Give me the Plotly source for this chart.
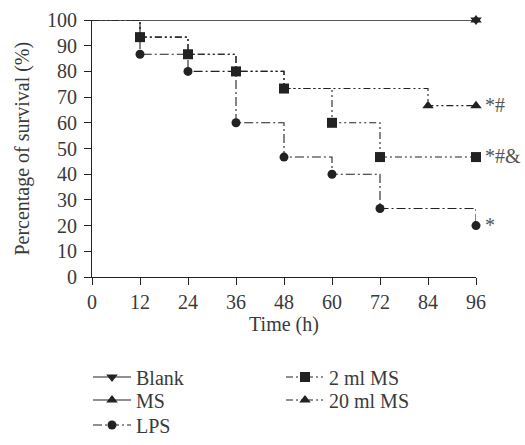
import plotly.graph_objects as go

# ---- data ----
time_blank = [0, 96]
surv_blank = [100, 100]
time_ms = [0, 96]
surv_ms = [100, 100]
time_lps = [0, 12, 24, 36, 48, 60, 72, 96]
surv_lps = [100, 86.67, 80, 60, 46.67, 40, 26.67, 20]
time_2ml = [0, 12, 24, 36, 48, 60, 72, 96]
surv_2ml = [100, 93.33, 86.67, 80, 73.33, 60, 46.67, 46.67]
time_20ml = [0, 12, 24, 36, 48, 84, 96]
surv_20ml = [100, 93.33, 86.67, 80, 73.33, 66.67, 66.67]

x_ticks = [0, 12, 24, 36, 48, 60, 72, 84, 96]
y_ticks = list(range(0, 101, 10))

sig_labels = {"20 ml MS": "*#", "2 ml MS": "*#&", "LPS": "*"}

FONT = "Liberation Serif"
FS = 20
INK = "#222222"
TXT = "#3a3a3a"
DASH_LPS = "9px,3px,2px,3px"
DASH_MS2 = "7px,3px,2px,3px,2px,3px"

series = [
    # name, x, y, symbol, size, dash, marker-from index, legend
    ("Blank", time_blank, surv_blank, "triangle-down", 10, "solid", 1, "legend"),
    ("MS", time_ms, surv_ms, "triangle-up", 10, "solid", 1, "legend2"),
    ("LPS", time_lps, surv_lps, "circle", 9, DASH_LPS, 1, "legend3"),
    ("2 ml MS", time_2ml, surv_2ml, "square", 10, DASH_MS2, 1, "legend4"),
    ("20 ml MS", time_20ml, surv_20ml, "triangle-up", 10, DASH_MS2, 5, "legend5"),
]

fig = go.Figure()
draw_order = ["Blank", "20 ml MS", "LPS", "2 ml MS", "MS"]
lookup = {s[0]: s for s in series}
for nm in draw_order:
    name, xs, ys, sym, sz, dash, mstart, lg = lookup[nm]
    fig.add_trace(go.Scatter(
        x=xs, y=ys, mode="lines", line=dict(color=INK, width=1.1, dash=dash, shape="hv"),
        showlegend=False, hoverinfo="skip", cliponaxis=False))
    fig.add_trace(go.Scatter(
        x=xs[mstart:], y=ys[mstart:], mode="markers",
        marker=dict(symbol=sym, size=sz, color=INK, line=dict(width=0)),
        showlegend=False, cliponaxis=False))

for name, xs, ys, sym, sz, dash, mstart, lg in series:
    fig.add_trace(go.Scatter(
        x=[None], y=[None], mode="lines+markers", name=name, legend=lg,
        line=dict(color=INK, width=1.1, dash=dash),
        marker=dict(symbol=sym, size=sz, color=INK)))

for name, lab in sig_labels.items():
    _, xs, ys, *_ = lookup[name]
    fig.add_annotation(x=xs[-1], y=ys[-1], text=lab, showarrow=False,
                       xanchor="left", xshift=7, yshift=1,
                       font=dict(family=FONT, size=FS, color="#555555"))

# y-axis title as rotated text left of the tick labels
fig.add_annotation(text="Percentage of survival (%)", xref="paper", yref="paper",
                   x=-0.182, y=0.5, textangle=-90, showarrow=False,
                   xanchor="center", yanchor="middle",
                   font=dict(family=FONT, size=FS, color=TXT))

def leg(xpx, ypx):
    return dict(font=dict(family=FONT, size=FS, color=TXT), bgcolor="rgba(0,0,0,0)",
                itemwidth=38, xref="container", yref="container",
                x=xpx / 525, y=1 - ypx / 445, xanchor="left", yanchor="middle")

fig.update_layout(
    width=525, height=445,
    margin=dict(l=92, r=49, t=20, b=168, autoexpand=False),
    paper_bgcolor="white", plot_bgcolor="white",
    font=dict(family=FONT, size=FS, color=TXT),
    xaxis=dict(range=[0, 96], tickvals=x_ticks, showline=True, linecolor=INK, linewidth=1.1,
               ticks="outside", ticklen=7, tickwidth=1.1, tickcolor=INK, showgrid=False,
               zeroline=False, tickfont=dict(family=FONT, size=FS, color=TXT),
               title=dict(text="Time (h)", font=dict(family=FONT, size=FS, color=TXT), standoff=0)),
    yaxis=dict(range=[0, 100], tickvals=y_ticks, showline=True, linecolor=INK, linewidth=1.1,
               ticks="outside", ticklen=7, tickwidth=1.1, tickcolor=INK, showgrid=False,
               zeroline=False, tickfont=dict(family=FONT, size=FS, color=TXT),
               ticklabelstandoff=3),
    legend=leg(88, 377),
    legend2=leg(88, 400),
    legend3=leg(88, 425),
    legend4=leg(281, 377),
    legend5=leg(281, 400),
)

fig.write_html("out.html")
